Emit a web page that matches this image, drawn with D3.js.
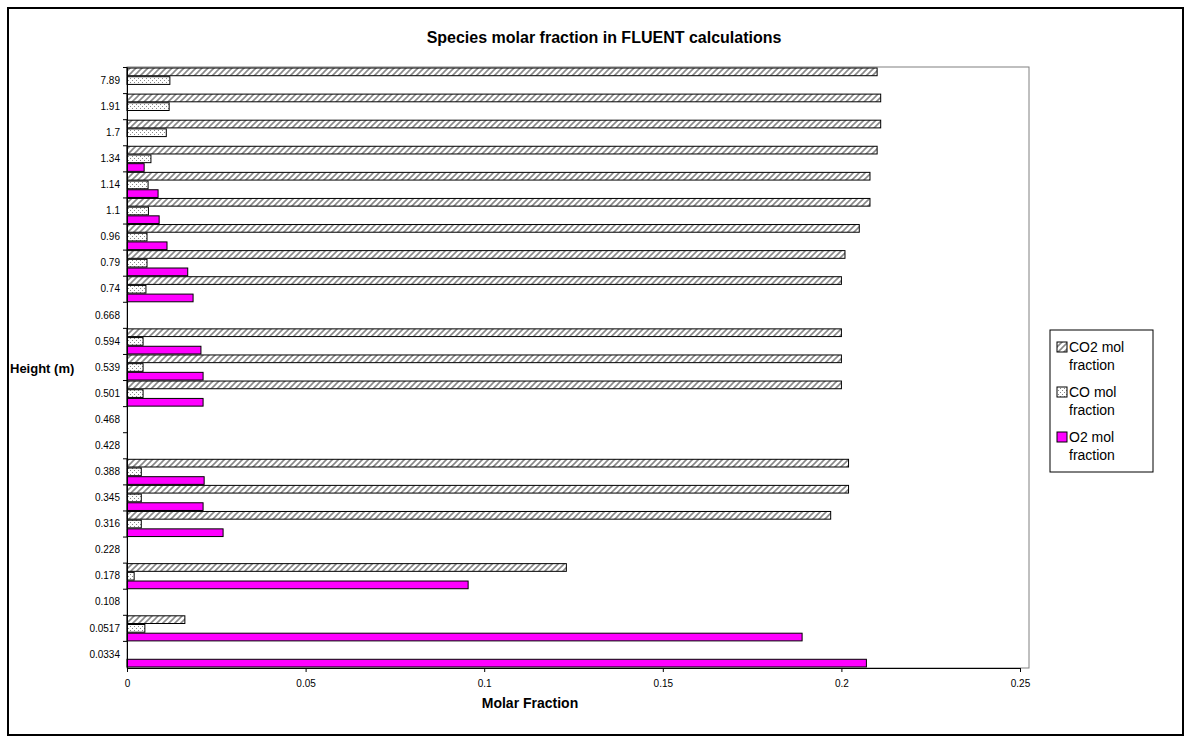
<!DOCTYPE html>
<html><head><meta charset="utf-8">
<script src="https://cdn.jsdelivr.net/npm/d3@7"></script>
<style>body{margin:0;background:#fff;font-family:Arial,"Liberation Sans",sans-serif}</style>
</head><body><svg width="1192" height="742"></svg>
<script>
var heights = ["0.0334","0.0517","0.108","0.178","0.228","0.316","0.345","0.388","0.428","0.468","0.501","0.539","0.594","0.668","0.74","0.79","0.96","1.1","1.14","1.34","1.7","1.91","7.89"];
var co2 = [0,0.0162,null,0.123,null,0.197,0.202,0.202,null,null,0.200,0.200,0.200,null,0.200,0.201,0.205,0.208,0.208,0.210,0.211,0.211,0.210];
var co  = [0,0.005,null,0.002,null,0.004,0.004,0.004,null,null,0.0045,0.0045,0.0045,null,0.0053,0.0056,0.0056,0.006,0.0059,0.0067,0.011,0.0118,0.012];
var o2  = [0.207,0.189,null,0.0955,null,0.0269,0.0213,0.0216,null,null,0.0213,0.0213,0.0207,null,0.0185,0.017,0.0112,0.009,0.0087,0.0048,null,null,null];
var series = ["CO2 mol fraction","CO mol fraction","O2 mol fraction"];
var xTicks = [0,0.05,0.1,0.15,0.2,0.25];

var svg = d3.select("svg");
var defs = svg.append("defs");
var hatch = defs.append("pattern").attr("id","hatch").attr("patternUnits","userSpaceOnUse").attr("width",6).attr("height",6);
hatch.append("rect").attr("width",6).attr("height",6).attr("fill","#fff");
hatch.append("path").attr("d","M-1,7 L7,-1 M-1,1 L1,-1 M5,7 L7,5").attr("stroke","#888").attr("stroke-width",1.6);
var dots = defs.append("pattern").attr("id","dots").attr("patternUnits","userSpaceOnUse").attr("width",4).attr("height",4);
dots.append("rect").attr("width",4).attr("height",4).attr("fill","#fff");
dots.append("rect").attr("x",0).attr("y",0).attr("width",1).attr("height",1).attr("fill","#888");
dots.append("rect").attr("x",2).attr("y",2).attr("width",1).attr("height",1).attr("fill","#888");
var fills = ["url(#hatch)","url(#dots)","#ff00ff"];

svg.append("rect").attr("x",8).attr("y",8).attr("width",1175).attr("height",727).attr("fill","none").attr("stroke","#000").attr("stroke-width",2);

var pLeft = 127, pRight = 1020, pTop = 67, pBottom = 668;
var x = d3.scaleLinear().domain([0,0.25]).range([pLeft,pRight]);
var y = d3.scaleBand().domain(heights.slice().reverse()).range([pTop,pBottom]).paddingInner(0).paddingOuter(0.02);
var sub = d3.scaleBand().domain([0,1,2]).range([0,y.bandwidth()]);

svg.append("rect").attr("x",pLeft).attr("y",pTop).attr("width",1029-pLeft).attr("height",pBottom-pTop)
  .attr("fill","none").attr("stroke","#808080");

svg.append("text").attr("x",604).attr("y",43).attr("text-anchor","middle").style("font-size","16px").style("font-weight","bold")
  .text("Species molar fraction in FLUENT calculations");

var data = [co2,co,o2];
data.forEach(function(vals,si){
  svg.append("g").selectAll("rect").data(heights.map(function(h,i){return {h:h,v:vals[i]};}).filter(function(d){return d.v!==null;}))
    .enter().append("rect")
    .attr("x",x(0)).attr("y",function(d){return y(d.h)+sub(si)+0.5;})
    .attr("width",function(d){return x(d.v)-x(0);}).attr("height",sub.bandwidth()-1)
    .attr("fill",fills[si]).attr("stroke","#000").attr("stroke-width",1);
});

var xa = svg.append("g").attr("transform","translate(0,"+pBottom+")")
  .call(d3.axisBottom(x).tickValues(xTicks).tickFormat(d3.format("")).tickSize(4));
xa.selectAll("text").style("font-size","10px").attr("dy","1.2em");
xa.select(".domain").attr("stroke","#000");
var ya = svg.append("g").attr("transform","translate("+pLeft+",0)")
  .call(d3.axisLeft(y).tickSize(0).tickPadding(7));
ya.selectAll("text").style("font-size","10px");
ya.select(".domain").attr("stroke","#000");
svg.append("g").selectAll("line").data(heights).enter().append("line")
  .attr("x1",pLeft-4).attr("x2",pLeft).attr("y1",function(d){return y(d);})
  .attr("y2",function(d){return y(d);}).attr("stroke","#000");

svg.append("text").attr("x",530).attr("y",708).attr("text-anchor","middle").style("font-size","14px").style("font-weight","bold").text("Molar Fraction");
svg.append("text").attr("x",10).attr("y",373).style("font-size","13px").style("font-weight","bold").text("Height (m)");

var lg = svg.append("g").attr("transform","translate(1050,330)");
lg.append("rect").attr("width",103).attr("height",142).attr("fill","#fff").attr("stroke","#000");
series.forEach(function(s,i){
  var gy = 8 + i*45;
  lg.append("rect").attr("x",7).attr("y",gy+4).attr("width",10).attr("height",10).attr("fill",fills[i]).attr("stroke","#000");
  var words = s.split(" ");
  lg.append("text").attr("x",19).attr("y",gy+14).style("font-size","14px").text(words[0]+" "+words[1]);
  lg.append("text").attr("x",19).attr("y",gy+32).style("font-size","14px").text(words[2]);
});
</script></body></html>
